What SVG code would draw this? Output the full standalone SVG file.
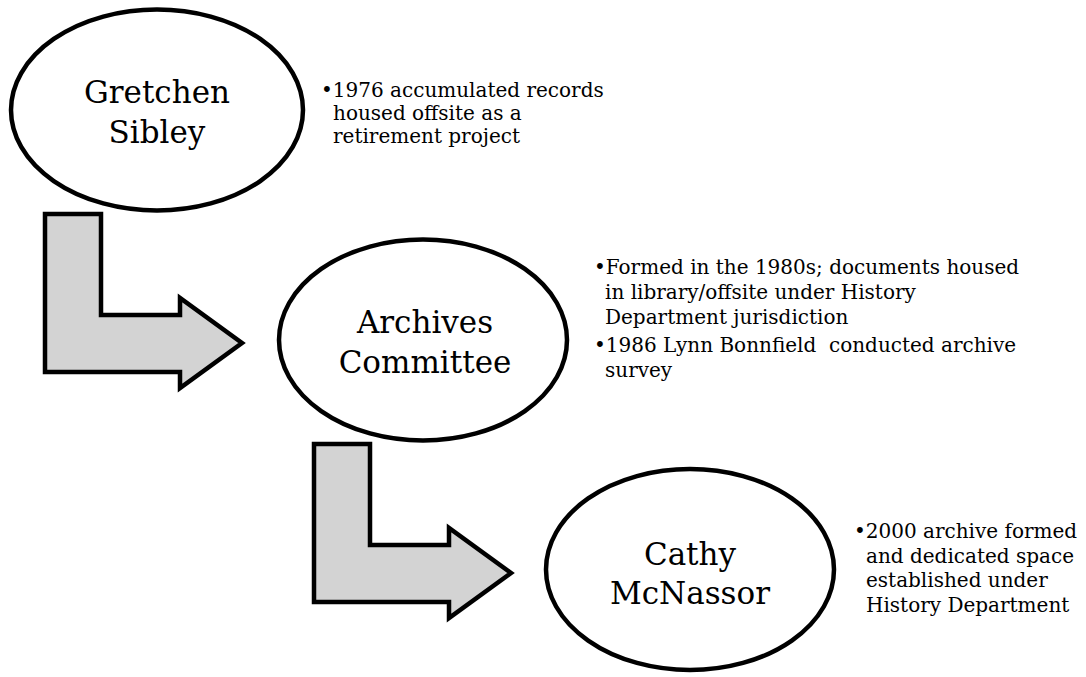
<svg xmlns="http://www.w3.org/2000/svg" width="1086" height="677" viewBox="0 0 1086 677">
  <style>
    .bubble { fill: #ffffff; stroke: #000000; stroke-width: 4.5; }
    .bend { fill: #d3d3d3; stroke: #000000; stroke-width: 4.5; stroke-linejoin: miter; }
    .name { font-family: "DejaVu Serif", "Liberation Serif", serif; font-size: 31px; fill: #000000; text-anchor: middle; }
    .note { font-family: "DejaVu Serif", "Liberation Serif", serif; font-size: 20px; fill: #000000; }
  </style>
  <rect width="1086" height="677" fill="#ffffff"/>

  <!-- bent arrows leading from one person to the next -->
  <g id="connectors">
    <path class="bend" d="M45,214 H101 V315 H180 V298 L242,343 L180,388 V372 H45 Z"/>
    <path class="bend" d="M314,444 H370 V545 H449 V528 L511,573 L449,618 V602 H314 Z"/>
  </g>

  <g id="node-sibley">
    <ellipse class="bubble" cx="157" cy="110" rx="146" ry="100.5"/>
    <text class="name" x="157" y="103">Gretchen</text>
    <text class="name" x="157" y="143">Sibley</text>
  </g>
  <g id="notes-sibley">
    <text class="note" x="321" y="97">•1976 accumulated records</text>
    <text class="note" x="333" y="120">housed offsite as a</text>
    <text class="note" x="333" y="143">retirement project</text>
  </g>

  <g id="node-committee">
    <ellipse class="bubble" cx="423" cy="340" rx="144" ry="100.5"/>
    <text class="name" x="425" y="333">Archives</text>
    <text class="name" x="425" y="373">Committee</text>
  </g>
  <g id="notes-committee">
    <text class="note" x="594" y="274">•Formed in the 1980s; documents housed</text>
    <text class="note" x="605" y="299">in library/offsite under History</text>
    <text class="note" x="605" y="324">Department jurisdiction</text>
    <text class="note" x="594" y="352" xml:space="preserve">•1986 Lynn Bonnfield  conducted archive</text>
    <text class="note" x="605" y="377">survey</text>
  </g>

  <g id="node-mcnassor">
    <ellipse class="bubble" cx="690" cy="569.5" rx="144" ry="100.5"/>
    <text class="name" x="690" y="565">Cathy</text>
    <text class="name" x="690" y="604">McNassor</text>
  </g>
  <g id="notes-mcnassor">
    <text class="note" x="854" y="538">•2000 archive formed</text>
    <text class="note" x="866" y="562.5">and dedicated space</text>
    <text class="note" x="866" y="587">established under</text>
    <text class="note" x="866" y="611.5">History Department</text>
  </g>
</svg>
